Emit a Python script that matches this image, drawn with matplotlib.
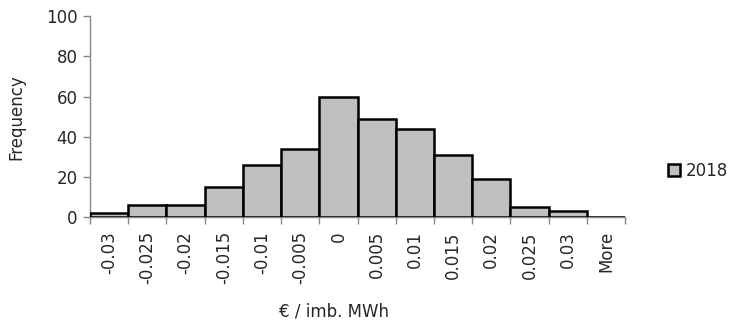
import matplotlib
matplotlib.use("Agg")
import matplotlib.pyplot as plt
import numpy as np

categories = ["-0.03", "-0.025", "-0.02", "-0.015", "-0.01", "-0.005", "0",
              "0.005", "0.01", "0.015", "0.02", "0.025", "0.03", "More"]
freq_2018 = [2, 6, 6, 15, 26, 34, 60, 49, 44, 31, 19, 5, 3, 0]
series_name = "2018"
y_ticks = [0, 20, 40, 60, 80, 100]

plt.rcParams['font.family'] = ['DejaVu Sans']
FS = 12
TXT = "#262626"

fig = plt.figure(figsize=(7.32, 3.23), dpi=100)
ax = fig.add_axes([90/732, 1-217.3/323, 535/732, (217.3-16)/323])

x = np.arange(len(categories))
ax.bar(x, freq_2018, width=1.0, color="#c0c0c0", edgecolor="black",
       linewidth=1.8, label=series_name, zorder=3)

ax.set_xlim(-0.5, len(categories)-0.5)
ax.set_ylim(0, 100)
ax.set_yticks(y_ticks)
ax.set_yticklabels([str(v) for v in y_ticks], fontsize=FS, color=TXT)

ax.set_xticks(x)
ax.set_xticklabels(categories, rotation=90, fontsize=FS, color=TXT)
ax.tick_params(axis='x', length=0, pad=10)
ax.set_xticks(np.arange(len(categories)+1)-0.5, minor=True)
ax.tick_params(axis='x', which='minor', length=5, color="#868686", width=1)
ax.tick_params(axis='y', length=5, color="#868686", width=1, pad=4)

for s in ["top", "right"]:
    ax.spines[s].set_visible(False)
for s in ["left", "bottom"]:
    ax.spines[s].set_color("#868686")
    ax.spines[s].set_linewidth(1)

ax.set_ylabel("Frequency", fontsize=FS, color=TXT)
ax.yaxis.set_label_coords(-0.121, 0.5)
ax.set_xlabel("€ / imb. MWh", fontsize=FS, color=TXT)
ax.xaxis.set_label_coords(0.456, -0.425)

leg = ax.legend(loc="center left", bbox_to_anchor=(1.068, 0.23), frameon=False,
                fontsize=FS, handlelength=0.72, handleheight=0.72, handletextpad=0.35,
                borderaxespad=0.0)
for t in leg.get_texts():
    t.set_color(TXT)

fig.savefig("out.png", dpi=100)
